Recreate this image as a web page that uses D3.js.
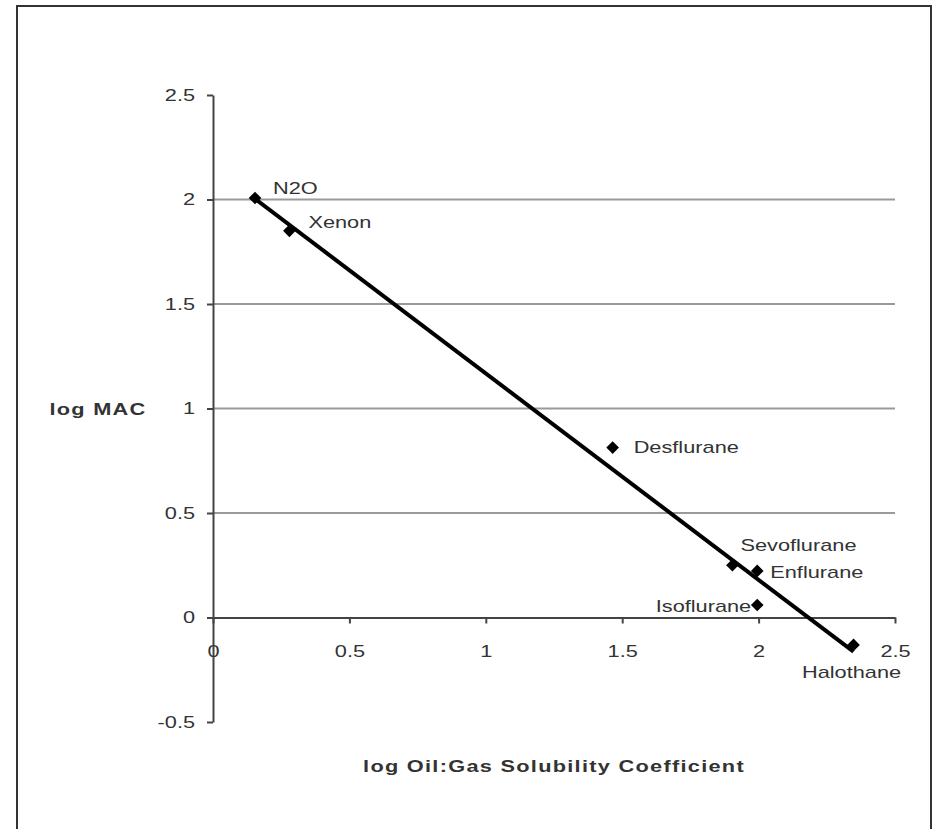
<!DOCTYPE html>
<html>
<head>
<meta charset="utf-8">
<script src="https://cdn.jsdelivr.net/npm/d3@7"></script>
<style>
  body { margin: 0; background: #fff; }
  svg { display: block; font-family: "Liberation Sans", Arial, sans-serif; }
</style>
</head>
<body>
<div id="chart"></div>
<script>
// anaesthetic agents: log oil:gas coefficient vs log MAC
var agents = ['N2O', 'Xenon', 'Desflurane', 'Sevoflurane', 'Enflurane', 'Isoflurane', 'Halothane'];
var logOilGas = [0.154, 0.28, 1.465, 1.904, 1.995, 1.995, 2.348];
var logMAC = [2.007, 1.85, 0.813, 0.25, 0.223, 0.06, -0.131];
var xTicks = [0, 0.5, 1, 1.5, 2, 2.5];
var yTicks = [-0.5, 0, 0.5, 1, 1.5, 2, 2.5];
var gridValues = [0.5, 1, 1.5, 2];

// label placement per agent: [dx, dy, anchor]
var labelPos = {
    'N2O': [18, -4, 'start'],
    'Xenon': [19, -3, 'start'],
    'Desflurane': [21, 5, 'start'],
    'Sevoflurane': [8, -14, 'start'],
    'Enflurane': [13, 7, 'start'],
    'Isoflurane': [-6, 7, 'end'],
    'Halothane': [-2, 33, 'middle']
};

var width = 934, height = 829;
var sx = 1.28; // the source text looks stretched sideways

var svg = d3.select('#chart').append('svg')
    .attr('width', width)
    .attr('height', height);

svg.append('rect')
    .attr('x', 17).attr('y', 6)
    .attr('width', 914).attr('height', 860)
    .attr('fill', '#fff')
    .attr('stroke', '#333')
    .attr('stroke-width', 2);

var x = d3.scaleLinear().domain([0, 2.5]).range([213, 895]);
var y = d3.scaleLinear().domain([-0.5, 2.5]).range([722, 95]);

function addText(parent, px, py, str, anchor, bold) {
    return parent.append('text')
        .attr('transform', 'translate(' + px + ',' + py + ') scale(' + sx + ',1)')
        .attr('text-anchor', anchor)
        .attr('font-size', 17)
        .attr('font-weight', bold ? 'bold' : 'normal')
        .attr('letter-spacing', bold ? 1 : 0)
        .attr('fill', '#333')
        .text(str);
}

// plain hyphen for negatives, like the source
var fmt = function (d) { return String(d); };

// horizontal gridlines
svg.append('g').selectAll('line')
    .data(gridValues)
    .join('line')
    .attr('x1', x(0)).attr('x2', x(2.5))
    .attr('y1', function (d) { return y(d); })
    .attr('y2', function (d) { return y(d); })
    .attr('stroke', '#9a9a9a')
    .attr('stroke-width', 2);

var yAxis = svg.append('g')
    .attr('transform', 'translate(' + x(0) + ',0)')
    .call(d3.axisLeft(y).tickValues(yTicks).tickSizeInner(6).tickSizeOuter(0).tickPadding(8)
        .tickFormat(fmt));

var xAxis = svg.append('g')
    .attr('transform', 'translate(0,' + y(0) + ')')
    .call(d3.axisBottom(x).tickValues(xTicks).tickSizeInner(6).tickSizeOuter(0).tickPadding(21)
        .tickFormat(fmt));

[xAxis, yAxis].forEach(function (ax) {
    ax.select('.domain').attr('stroke', '#444').attr('stroke-width', 2);
    ax.selectAll('.tick line').attr('stroke', '#444').attr('stroke-width', 2);
    ax.selectAll('.tick text')
        .attr('font-family', '"Liberation Sans", Arial, sans-serif')
        .attr('font-size', 17)
        .attr('fill', '#333')
        .attr('transform', 'scale(' + sx + ',1)');
});

// least squares trendline across the data range
var mx = d3.mean(logOilGas), my = d3.mean(logMAC);
var sxy = d3.sum(logOilGas, function (v, i) { return (v - mx) * (logMAC[i] - my); });
var sxx = d3.sum(logOilGas, function (v) { return (v - mx) * (v - mx); });
var slope = sxy / sxx, intercept = my - slope * mx;
var xExt = d3.extent(logOilGas);

svg.append('path')
    .datum(xExt)
    .attr('fill', 'none')
    .attr('stroke', '#000')
    .attr('stroke-width', 4)
    .attr('d', d3.line()
        .x(function (d) { return x(d); })
        .y(function (d) { return y(slope * d + intercept); }));

var points = agents.map(function (a, i) { return { name: a, x: logOilGas[i], y: logMAC[i] }; });

svg.append('g').selectAll('path')
    .data(points)
    .join('path')
    .attr('transform', function (d) { return 'translate(' + x(d.x) + ',' + y(d.y) + ') rotate(45)'; })
    .attr('d', d3.symbol().type(d3.symbolSquare).size(80))
    .attr('fill', '#000');

var labels = svg.append('g');
points.forEach(function (d) {
    var p = labelPos[d.name];
    addText(labels, x(d.x) + p[0], y(d.y) + p[1], d.name, p[2], false);
});

addText(svg, 98, 415, 'log MAC', 'middle', true);
addText(svg, 554, 772, 'log Oil:Gas Solubility Coefficient', 'middle', true);
</script>
</body>
</html>
